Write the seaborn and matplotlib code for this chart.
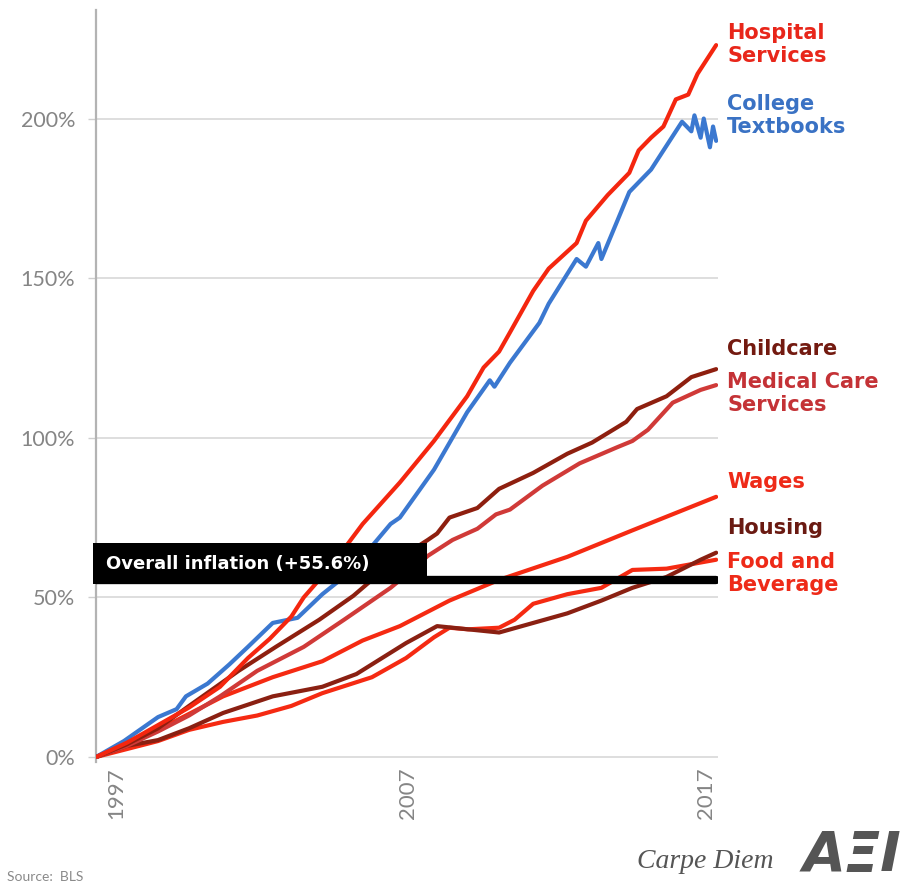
import matplotlib
matplotlib.use("Agg")
import matplotlib.pyplot as plt
import matplotlib.transforms as mtransforms
from matplotlib.patches import Rectangle
import pandas as pd
import seaborn as sns

# Cumulative price change since 1997 (%), BLS series
hospital_years = [1997.0, 1998.0, 1999.0, 2000.0, 2001.0, 2001.9, 2002.6, 2003.3, 2003.7, 2004.6,
                  2005.6, 2006.8, 2007.9, 2008.97, 2009.5, 2010.0, 2010.35, 2011.1, 2011.6, 2012.5,
                  2012.8, 2013.5, 2014.2, 2014.5, 2014.9, 2015.3, 2015.7, 2016.1, 2016.4, 2017.0]
hospital_pct = [0, 4.5, 10, 15.5, 22, 31, 37, 44, 50, 60,
                73, 86, 99, 113, 122, 127, 133, 146, 153, 161,
                168, 176, 183, 190, 194, 197.5, 206, 207.5, 214, 223]

textbook_years = [1997.0, 1997.9, 1999.0, 1999.6, 1999.9, 2000.6, 2001.3, 2001.9, 2002.7, 2003.5,
                  2004.3, 2005.2, 2006.5, 2006.8, 2007.9, 2008.97, 2009.7, 2009.85, 2010.35, 2011.3,
                  2011.6, 2012.5, 2012.8, 2013.2, 2013.3, 2014.2, 2014.9, 2015.5, 2015.9, 2016.2,
                  2016.3, 2016.5, 2016.6, 2016.8, 2016.9, 2017.0]
textbook_pct = [0, 5, 12.5, 15, 19, 23, 29, 34.5, 42, 43.6,
                51, 58, 73, 75, 90, 108, 118, 116, 123.5, 136,
                142, 156, 153.6, 161, 156, 177, 184, 193, 199, 196,
                201, 194, 200, 191, 197.5, 193]

childcare_years = [1997.0, 1998.0, 1999.0, 2000.0, 2001.6, 2002.8, 2004.2, 2005.3, 2006.5, 2007.7,
                   2008.0, 2008.4, 2009.3, 2010.0, 2011.1, 2012.2, 2013.0, 2014.1, 2014.45, 2015.4,
                   2016.2, 2017.0]
childcare_pct = [0, 4, 9, 16, 27, 34.5, 43, 50.5, 60.5, 68,
                 70, 75, 78, 84, 89, 95, 98.5, 105, 109, 113,
                 119, 121.5]

medical_years = [1997.0, 1998.0, 1999.0, 2000.0, 2001.0, 2002.2, 2003.7, 2005.0, 2006.5, 2007.0,
                 2007.7, 2008.5, 2009.3, 2009.9, 2010.35, 2011.4, 2012.6, 2013.8, 2014.3, 2014.8,
                 2015.6, 2016.5, 2017.0]
medical_pct = [0, 3.5, 8, 13, 19, 27, 34.5, 43, 53, 57,
               63, 68, 71.5, 76, 77.5, 85, 92, 97, 99, 102.5,
               111, 115, 116.5]

wages_years = [1997.0, 1998.0, 1999.0, 2000.0, 2001.1, 2002.7, 2004.3, 2005.6, 2006.8, 2007.0,
               2008.4, 2010.0, 2012.2, 2014.3, 2017.0]
wages_pct = [0, 4, 8.5, 13.5, 19, 25, 30, 36.5, 41, 42,
             49, 55.5, 62.7, 71, 81.5]

housing_years = [1997.0, 1998.0, 1999.0, 2000.0, 2001.1, 2002.7, 2004.3, 2005.4, 2007.0, 2008.0,
                 2009.0, 2010.0, 2011.1, 2012.2, 2013.3, 2014.3, 2015.4, 2016.5, 2017.0]
housing_pct = [0, 3.5, 5.3, 9, 13.8, 19, 22, 26, 35.7, 41,
               40, 39, 42, 45, 49, 53, 56.4, 61.8, 64]

food_years = [1997.0, 1998.0, 1999.0, 2000.0, 2001.1, 2002.2, 2003.3, 2004.3, 2005.9, 2007.0,
              2007.9, 2008.4, 2009.0, 2010.0, 2010.5, 2011.1, 2012.2, 2013.3, 2014.3, 2015.4,
              2017.0]
food_pct = [0, 2.5, 5, 8.5, 11, 13, 16, 20, 25, 31,
            37.5, 40.5, 40, 40.5, 43, 48, 51, 53, 58.6, 59,
            61.8]

overall_inflation = 55.6

series_names = ["Food and Beverage", "Housing", "Wages", "Medical Care Services",
                "Childcare", "College Textbooks", "Hospital Services"]
series_data = {
    "Hospital Services": (hospital_years, hospital_pct),
    "College Textbooks": (textbook_years, textbook_pct),
    "Childcare": (childcare_years, childcare_pct),
    "Medical Care Services": (medical_years, medical_pct),
    "Wages": (wages_years, wages_pct),
    "Housing": (housing_years, housing_pct),
    "Food and Beverage": (food_years, food_pct),
}
line_colors = {
    "Hospital Services": "#F4260F",
    "College Textbooks": "#3B78D0",
    "Childcare": "#8E1F0F",
    "Medical Care Services": "#D03A38",
    "Wages": "#F52A12",
    "Housing": "#8A2012",
    "Food and Beverage": "#F52A12",
}
# End-of-line labels: text, colour, vertical position (%)
end_labels = [
    ("Hospital\nServices", "#E8261A", 223.2),
    ("College\nTextbooks", "#3A72C4", 201.0),
    ("Childcare", "#731A10", 127.9),
    ("Medical Care\nServices", "#C43236", 113.8),
    ("Wages", "#EE2A18", 86.2),
    ("Housing", "#6A1A12", 71.8),
    ("Food and\nBeverage", "#EE2A18", 57.4),
]
year_ticks = [1997, 2007, 2017]
pct_ticks = [0, 50, 100, 150, 200]

frames = []
for name in series_names:
    yrs, vals = series_data[name]
    frames.append(pd.DataFrame({"year": yrs, "pct": vals, "series": name}))
df = pd.concat(frames, ignore_index=True)

sns.set_theme(style="white")
plt.rcParams["font.family"] = ["Lato", "DejaVu Sans"]

W, H = 907, 884
fig = plt.figure(figsize=(W / 100, H / 100), dpi=100)
ax = fig.add_axes([96 / W, 1 - 761.8 / H, (718 - 96) / W, (761.8 - 10) / H])

sns.lineplot(data=df, x="year", y="pct", hue="series", hue_order=series_names,
             palette=line_colors, estimator=None, lw=3.0, legend=False, ax=ax,
             solid_capstyle="round", solid_joinstyle="round", zorder=3)

ax.set_xlim(1997, 2017.06)
ax.set_ylim(-1.5, 234)
ax.set_xlabel("")
ax.set_ylabel("")

tick_color = "#858585"
ax.set_yticks(pct_ticks)
ax.set_yticklabels([f"{v}%" for v in pct_ticks], fontsize=15.5, color=tick_color)
ax.yaxis.grid(True, color="#d4d4d4", lw=1.1)
ax.tick_params(axis="y", left=True, length=6, width=1, color="#cfcfcf", pad=9)
ax.set_xticks(year_ticks)
ax.set_xticklabels([])
ax.tick_params(axis="x", bottom=False, length=0)
for side in ["top", "right", "bottom"]:
    ax.spines[side].set_visible(False)
ax.spines["left"].set_color("#b3b3b3")
ax.spines["left"].set_linewidth(1.6)

# Year labels below the baseline
year_shift = {1997: 20, 2007: 2, 2017: -10}
for yr in year_ticks:
    tr = mtransforms.offset_copy(ax.get_xaxis_transform(), fig=fig,
                                 x=year_shift[yr], y=-6, units="dots")
    ax.text(yr, 0, str(yr), transform=tr, rotation=90, ha="center", va="top",
            fontsize=16, color=tick_color)

# Overall inflation reference line and its tag
ax.axhline(overall_inflation, xmin=0, xmax=0.997, color="black", lw=6, zorder=4)
btr = mtransforms.blended_transform_factory(ax.transAxes, ax.transData)
ax.add_patch(Rectangle((-0.005, overall_inflation - 1.3), 0.537, 12.6, transform=btr,
                       facecolor="black", edgecolor="none", zorder=5, clip_on=False))
ax.text(0.016, overall_inflation + 5.0, f"Overall inflation (+{overall_inflation}%)",
        transform=btr, color="white", fontsize=13, fontweight="bold",
        family="DejaVu Sans", ha="left", va="center", zorder=6)

# Series names to the right of the lines
for text, color, ypos in end_labels:
    ax.text(1.0145, ypos, text, transform=btr, color=color, fontsize=15,
            fontweight="bold", family="DejaVu Sans", ha="left", va="center",
            linespacing=1.2, clip_on=False)

fig.text(7 / W, 1 - 877 / H, "Source:  BLS", fontsize=10, color="#8a8a8a",
         ha="left", va="center")
fig.text(705 / W, 1 - 862 / H, "Carpe Diem", fontsize=20, color="#555555",
         family="Liberation Serif", style="italic", ha="center", va="center")
fig.text(852 / W, 1 - 856 / H, "AΞI", fontsize=40, color="#555555",
         family="DejaVu Sans", fontweight="bold", style="italic",
         ha="center", va="center")

fig.savefig("out.png", dpi=100, facecolor="white")
